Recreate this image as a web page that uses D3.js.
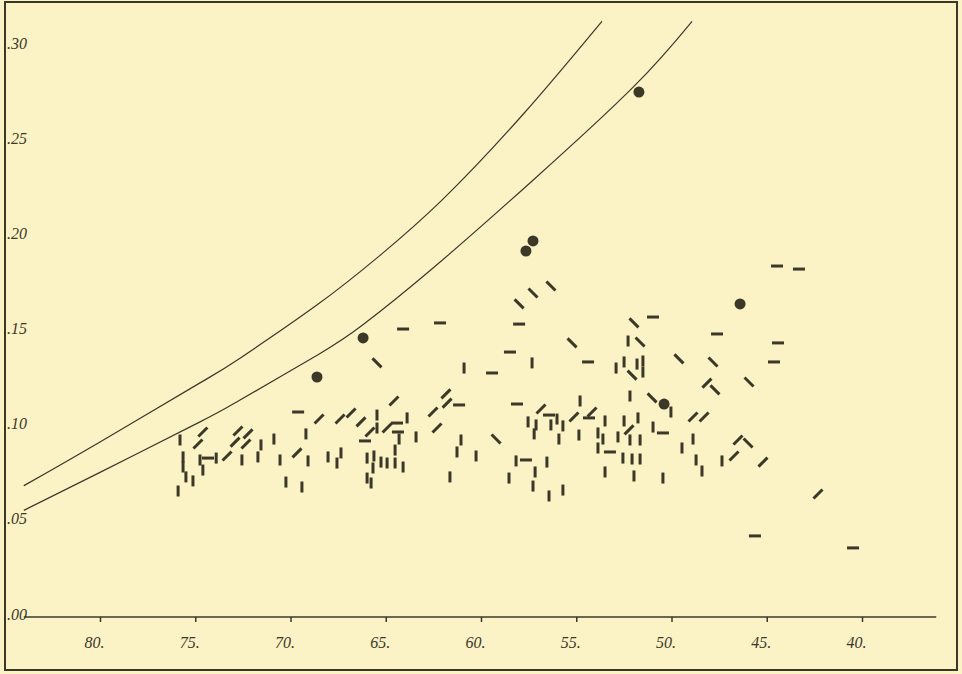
<!DOCTYPE html>
<html>
<head>
<meta charset="utf-8">
<script src="https://cdn.jsdelivr.net/npm/d3@7"></script>
<style>
  body { margin: 0; background: #fbf2c6; }
</style>
</head>
<body>
<script>
// ----------------------------------------------- //
// Data
var xTicks = [80, 75, 70, 65, 60, 55, 50, 45, 40];
var yTicks = [0, 0.05, 0.10, 0.15, 0.20, 0.25, 0.30];

// limiting curves
var upperCurve = [[84, 0.069], [80, 0.092], [74.75, 0.123], [72.65, 0.136], [68.6, 0.164],
    [65.3, 0.190], [62.05, 0.219], [57.8, 0.264], [53.65, 0.313]];
var lowerCurve = [[84, 0.056], [80, 0.076], [74.75, 0.1025], [72.65, 0.114], [68.6, 0.1375],
    [66.2, 0.1535], [62.5, 0.1835], [57.27, 0.2295], [52.0, 0.2785], [48.92, 0.313]];

// large round points
var bigDots = [[51.71, 0.2758], [57.27, 0.1976], [57.64, 0.1923], [66.19, 0.1466],
    [68.61, 0.1261], [46.4, 0.1645], [50.39, 0.1119]];

// dash marks, by direction
var verticalMarks = [
    [75.8, .093], [75.64, .0841], [75.64, .0788], [75.49, .0736], [75.12, .0715], [75.9, .0662],
    [74.75, .0825], [73.9, .0835], [74.6, .0772], [72.55, .0825], [71.71, .0841], [71.55, .0904],
    [70.87, .0935], [70.55, .0825], [70.24, .0709], [69.4, .0683], [69.19, .0962], [69.08, .082],
    [68.03, .0841], [67.35, .0862], [67.56, .0809], [65.98, .0835], [65.62, .0846], [65.67, .0783],
    [65.25, .0814], [64.93, .0809], [64.51, .0809], [64.09, .0788], [65.98, .073], [65.77, .0704],
    [65.46, .1061], [65.46, .0993], [64.3, .0935], [63.88, .1046], [63.41, .0946], [64.51, .0877],
    [60.89, .1308], [57.32, .1335], [52.28, .145], [52.91, .1308], [52.49, .134], [51.81, .1329],
    [51.5, .1345], [51.5, .1287], [52.18, .1161], [50.03, .1077], [54.8, .1135], [56.01, .104],
    [57.53, .1025], [57.11, .1009], [56.33, .1009], [55.7, .1004], [53.49, .103], [52.49, .103],
    [51.76, .1046], [50.97, .0998], [61.05, .093], [57.21, .0962], [55.91, .0935], [54.86, .0956],
    [53.86, .0967], [53.6, .0935], [52.81, .0946], [52.18, .093], [51.65, .093], [48.87, .0935],
    [61.26, .0867], [60.26, .0846], [53.86, .0888], [52.55, .0835], [52.07, .083], [51.65, .083],
    [49.45, .0888], [48.71, .0825], [58.16, .082], [56.54, .0814], [57.16, .0762], [58.53, .073],
    [61.63, .0736], [57.27, .0688], [56.43, .0636], [55.7, .0667], [53.49, .0762], [51.97, .0741],
    [50.45, .073], [48.4, .0767], [47.35, .082]
];
var horizontalMarks = [
    [74.33, .0835], [69.6, .1077], [64.41, .1019], [64.36, .0972], [66.09, .0925], [64.09, .1513],
    [62.15, .1545], [58.0, .1539], [50.97, .1576], [58.48, .1392], [59.42, .1282], [54.38, .134],
    [61.15, .1114], [58.11, .1119], [56.43, .1061], [54.33, .1046], [50.45, .0967], [53.23, .0867],
    [57.64, .0825], [44.46, .1844], [43.31, .1828], [47.61, .1487], [44.41, .144], [44.62, .134],
    [45.62, .0426], [40.47, .0363]
];
var slashMarks = [
    [74.6, .0972], [74.86, .0909], [72.76, .0977], [72.23, .0962], [72.91, .0919], [72.34, .0909],
    [73.33, .0846], [68.5, .104], [67.4, .104], [66.82, .1072], [66.3, .1025], [65.83, .0972],
    [64.93, .0993], [69.66, .0862], [64.57, .1135], [62.52, .1077], [61.84, .1172], [61.78, .1124],
    [62.31, .0993], [56.85, .1093], [55.12, .1051], [54.17, .1077], [52.23, .0983], [48.87, .1051],
    [48.29, .1051], [48.14, .1229], [46.51, .093], [46.72, .0846], [45.2, .0814], [42.31, .0646]
];
var backslashMarks = [
    [56.33, .1739], [57.27, .1702], [58.0, .1645], [51.97, .1545], [55.22, .144], [51.65, .1445],
    [49.61, .1356], [52.07, .1271], [51.02, .1151], [65.46, .1335], [59.21, .0935], [47.82, .134],
    [47.72, .1193], [45.93, .1235], [45.98, .0914]
];

// ----------------------------------------------- //
var svgWidth = 962;
var svgHeight = 674;
var ink = "#3b3828";
var paper = "#fbf2c6";
var labelFont = "'Liberation Serif', 'DejaVu Serif', serif";

var svg = d3.select("body")
    .append("svg")
    .attr("width", svgWidth)
    .attr("height", svgHeight);

svg.append("rect")
    .attr("width", svgWidth)
    .attr("height", svgHeight)
    .attr("fill", paper);

// Scales (x runs backwards)
var xScale = d3.scaleLinear().domain([80, 40]).range([100, 862]);
var yScale = d3.scaleLinear().domain([0, 0.30]).range([617, 46]);

// ----------------------------------------------- //
// Frame
svg.append("rect")
    .attr("x", 5)
    .attr("y", 2)
    .attr("width", 952)
    .attr("height", 668)
    .attr("fill", "none")
    .attr("stroke", ink)
    .attr("stroke-width", 2);

// x axis line
svg.append("line")
    .attr("x1", xScale(84))
    .attr("x2", xScale(36.1))
    .attr("y1", yScale(0))
    .attr("y2", yScale(0))
    .attr("stroke", ink)
    .attr("stroke-width", 1.5);

var xAxis = svg.append("g")
    .attr("transform", `translate(0, ${yScale(0)})`)
    .call(d3.axisBottom(xScale).tickValues(xTicks).tickSize(5).tickFormat(d => d + "."));
xAxis.select(".domain").remove();
xAxis.selectAll("line").attr("stroke", ink).attr("stroke-width", 1.5);
xAxis.selectAll("text")
    .attr("x", -6)
    .attr("y", 31)
    .attr("dy", 0)
    .attr("fill", ink)
    .style("font-family", labelFont)
    .style("font-style", "italic")
    .style("font-size", "16px");

var yAxis = svg.append("g")
    .attr("transform", "translate(5, 0)")
    .call(d3.axisRight(yScale).tickValues(yTicks).tickSize(0).tickPadding(2)
        .tickFormat(d => d3.format(".2f")(d).slice(1)));
yAxis.select(".domain").remove();
yAxis.selectAll("text")
    .attr("y", -3)
    .attr("fill", ink)
    .style("font-family", labelFont)
    .style("font-style", "italic")
    .style("font-size", "16px");

// ----------------------------------------------- //
// Curves
var line = d3.line()
    .x(d => xScale(d[0]))
    .y(d => yScale(d[1]))
    .curve(d3.curveNatural);

[upperCurve, lowerCurve].forEach(function(c) {
    svg.append("path")
        .datum(c)
        .attr("d", line)
        .attr("fill", "none")
        .attr("stroke", ink)
        .attr("stroke-width", 1.2);
});

// ----------------------------------------------- //
// Dash marks
function drawMarks(data, dx, dy) {
    svg.append("g").selectAll("line")
        .data(data)
        .enter()
        .append("line")
        .attr("x1", d => xScale(d[0]) - dx)
        .attr("x2", d => xScale(d[0]) + dx)
        .attr("y1", d => yScale(d[1]) - dy)
        .attr("y2", d => yScale(d[1]) + dy)
        .attr("stroke", ink)
        .attr("stroke-width", 3);
}
drawMarks(verticalMarks, 0, 5.5);
drawMarks(horizontalMarks, 6, 0);
drawMarks(slashMarks, -4.5, 4.5);
drawMarks(backslashMarks, 4.5, 4.5);

// Big dots
svg.append("g").selectAll("circle")
    .data(bigDots)
    .enter()
    .append("circle")
    .attr("cx", d => xScale(d[0]))
    .attr("cy", d => yScale(d[1]))
    .attr("r", 5.5)
    .attr("fill", ink);
</script>
</body>
</html>
